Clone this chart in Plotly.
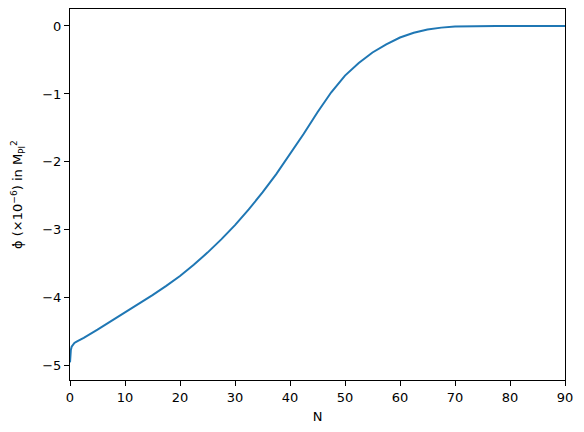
import plotly.graph_objects as go

# e-folds N and phi-dot (x1e-6, in M_Pl^2)
N = [0, 0.05, 0.15, 0.3, 0.5, 0.8, 1.2, 1.7, 2.5, 5, 7.5, 10, 12.5, 15, 17.5,
     20, 22.5, 25, 27.5, 30, 32.5, 35, 37.5, 40, 42.5, 45, 47.5, 50, 52.5,
     55, 57.5, 60, 62.5, 65, 67.5, 70, 72.5, 75, 77.5, 80, 85, 90]
phidot = [-4.95, -4.84, -4.77, -4.72, -4.69, -4.665, -4.645, -4.625, -4.59,
          -4.47, -4.345, -4.22, -4.09, -3.96, -3.825, -3.68, -3.515, -3.335,
          -3.14, -2.93, -2.70, -2.45, -2.18, -1.89, -1.585, -1.27, -0.975,
          -0.73, -0.545, -0.39, -0.27, -0.17, -0.10, -0.053, -0.024, -0.009,
          -0.003, -0.001, 0.0, 0.0, 0.0, 0.0]

fig = go.Figure()
fig.add_trace(go.Scatter(
    x=N, y=phidot,
    mode="lines",
    line=dict(color="#1f77b4", width=2),
    showlegend=False,
))

axis_style = dict(
    showgrid=False, zeroline=False, automargin=False,
    showline=True, linecolor="black", linewidth=1, mirror=True,
    ticks="outside", ticklen=5, tickcolor="black", tickwidth=1,
    tickfont=dict(size=13, color="black"),
)
fig.update_xaxes(range=[0, 90], dtick=10,
                 title=dict(text="N", font=dict(size=13, color="black"), standoff=8),
                 **axis_style)
fig.update_yaxes(range=[-5.21, 0.25], dtick=1, tickformat="d",
                 title=dict(text="\u03d5 (\u00d710<sup>\u22126</sup>) in M<sub>Pl</sub><sup>2</sup>",
                            font=dict(size=13, color="black"), standoff=16),
                 **axis_style)
# the dot over phi (the rotated title can't carry the combining mark)
fig.add_annotation(xref="paper", yref="paper", x=-0.115, y=0.364,
                   text="\u00b7", showarrow=False, xanchor="center", yanchor="middle",
                   font=dict(size=14, color="black"))
# the page body adds 8px on the left and top, so margins are shifted by that
fig.update_layout(
    width=584, height=432,
    margin=dict(l=62, r=27, t=1, b=60),
    plot_bgcolor="white", paper_bgcolor="white",
    font=dict(family="DejaVu Sans", color="black"),
)
fig.write_html("out.html")
